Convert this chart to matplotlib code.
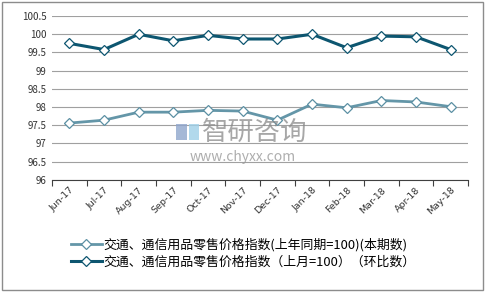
import matplotlib
matplotlib.use("Agg")
from matplotlib import pyplot as plt
from matplotlib.patches import Rectangle
import numpy as np

plt.rcParams['font.family'] = ['Noto Sans CJK SC', 'DejaVu Sans']

MONTHS = ["Jun-17", "Jul-17", "Aug-17", "Sep-17", "Oct-17", "Nov-17",
          "Dec-17", "Jan-18", "Feb-18", "Mar-18", "Apr-18", "May-18"]
YOY = [97.56, 97.64, 97.86, 97.86, 97.91, 97.89, 97.64, 98.08, 97.98, 98.18, 98.14, 98.01]
MOM = [99.75, 99.58, 100.0, 99.82, 99.97, 99.87, 99.87, 100.0, 99.63, 99.95, 99.93, 99.58]
LABEL_YOY = "交通、通信用品零售价格指数(上年同期=100)(本期数)"
LABEL_MOM = "交通、通信用品零售价格指数（上月=100）（环比数）"

fig = plt.figure(figsize=(4.86, 2.92), dpi=100)
ax = fig.add_axes([0.107, 0.384, 0.856, 0.561])

x = np.arange(len(MONTHS))
ax.plot(x, YOY, color="#6496A8", lw=2, marker="D", ms=5.5,
        mfc="white", mec="#5B8FA3", mew=0.9, label=LABEL_YOY)
ax.plot(x, MOM, color="#0D5670", lw=2.2, marker="D", ms=5.5,
        mfc="white", mec="#0D5670", mew=0.9, label=LABEL_MOM)

ax.set_xlim(-0.5, len(MONTHS) - 0.5)
ax.set_ylim(96, 100.5)
ax.set_yticks(np.arange(96, 100.51, 0.5))
ax.set_yticklabels(["96", "96.5", "97", "97.5", "98", "98.5", "99", "99.5", "100", "100.5"])
ax.yaxis.grid(True, color="#A0A0A0", lw=0.8)
ax.set_axisbelow(True)
for s in ["left", "right", "top"]:
    ax.spines[s].set_visible(False)
ax.spines["bottom"].set_color("#404040")
ax.tick_params(axis="y", length=0, labelsize=7, pad=4, colors="#333333")

ax.set_xticks(np.arange(-0.5, len(MONTHS)))
ax.set_xticklabels([])
ax.tick_params(axis="x", which="major", length=4, color="#404040", direction="out")
ax.set_xticks(x, minor=True)
ax.set_xticklabels(MONTHS, minor=True, rotation=45, ha="right", rotation_mode="anchor",
                   fontsize=6.8, family="DejaVu Sans", color="#333333")
ax.tick_params(axis="x", which="minor", length=0, pad=4)

# watermark
fig.add_artist(Rectangle((0.362, 0.52), 0.022, 0.055, transform=fig.transFigure,
                         fc="#8FA6CC", ec="none", alpha=0.8))
fig.add_artist(Rectangle((0.388, 0.52), 0.022, 0.055, transform=fig.transFigure,
                         fc="#9FD0E8", ec="none", alpha=0.8))
fig.text(0.525, 0.545, "智研咨询", fontsize=19, color="#8A8A8A", alpha=0.75,
         ha="center", va="center")
fig.text(0.50, 0.462, "www.chyxx.com", fontsize=10, color="#9A9A9A", alpha=0.8,
         ha="center", va="center")

leg = fig.legend(loc="center", bbox_to_anchor=(0.5, 0.133), ncol=1, frameon=False,
                 fontsize=9.3, handlelength=2.4, handletextpad=0.1, labelspacing=0.35)

fig.add_artist(Rectangle((0.004, 0.006), 0.99, 0.988, transform=fig.transFigure,
                         fill=False, ec="#8C8C8C", lw=1))

fig.savefig("out.png", dpi=100)
